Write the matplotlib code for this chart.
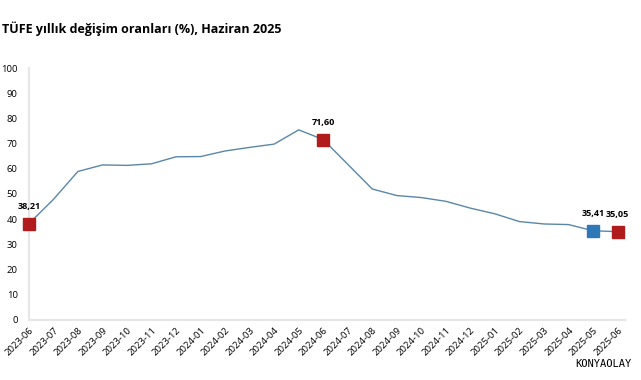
import matplotlib
matplotlib.use("Agg")
import matplotlib.pyplot as plt

months = ["2023-06", "2023-07", "2023-08", "2023-09", "2023-10", "2023-11", "2023-12",
          "2024-01", "2024-02", "2024-03", "2024-04", "2024-05", "2024-06", "2024-07",
          "2024-08", "2024-09", "2024-10", "2024-11", "2024-12", "2025-01", "2025-02",
          "2025-03", "2025-04", "2025-05", "2025-06"]
tufe = [38.21, 47.83, 58.94, 61.53, 61.36, 61.98, 64.77, 64.86, 67.07, 68.50, 69.80,
        75.45, 71.60, 61.78, 51.97, 49.38, 48.58, 47.09, 44.38, 42.12, 39.05, 38.10,
        37.86, 35.41, 35.05]
highlight = {"2023-06": "#b01c1c", "2024-06": "#b01c1c", "2025-05": "#2f78b8", "2025-06": "#b01c1c"}

plt.rcParams['font.family'] = ['Open Sans', 'DejaVu Sans']

fig = plt.figure(figsize=(6.41, 3.8), dpi=100)
ax = fig.add_axes([0.045, 0.158, 0.93, 0.663])

x = list(range(len(months)))
ax.plot(x, tufe, color="#5a87a8", lw=1.0, zorder=2)

for m, c in highlight.items():
    i = months.index(m)
    ax.plot(i, tufe[i], marker="s", ms=9, color=c, mec=c, clip_on=False, zorder=3)
    ax.annotate(f"{tufe[i]:.2f}".replace(".", ","), (i, tufe[i]), xytext=(0, 9),
                textcoords="offset points", ha="center", va="bottom",
                fontsize=6.5, fontweight="bold")

ax.set_xlim(0, len(months) - 0.7)
ax.set_ylim(0, 100)
ax.set_yticks(range(0, 101, 10))
ax.set_xticks(x)
ax.set_xticklabels(months, rotation=45, ha="right", rotation_mode="anchor", fontsize=6.8)
ax.tick_params(axis="y", length=0, pad=8, labelsize=6.8)
ax.tick_params(axis="x", length=0, pad=4)

for s in ["top", "right"]:
    ax.spines[s].set_visible(False)
for s in ["left", "bottom"]:
    ax.spines[s].set_color("#e6e6e6")
    ax.spines[s].set_linewidth(1.5)

fig.text(0.003, 0.925, "TÜFE yıllık değişim oranları (%), Haziran 2025",
         fontsize=9, fontweight="bold", ha="left", va="center")
fig.text(0.985, 0.043, "KONYAOLAY", fontsize=7.5, ha="right", va="center",
         family="DejaVu Sans Mono")

fig.savefig("out.png", dpi=100)
